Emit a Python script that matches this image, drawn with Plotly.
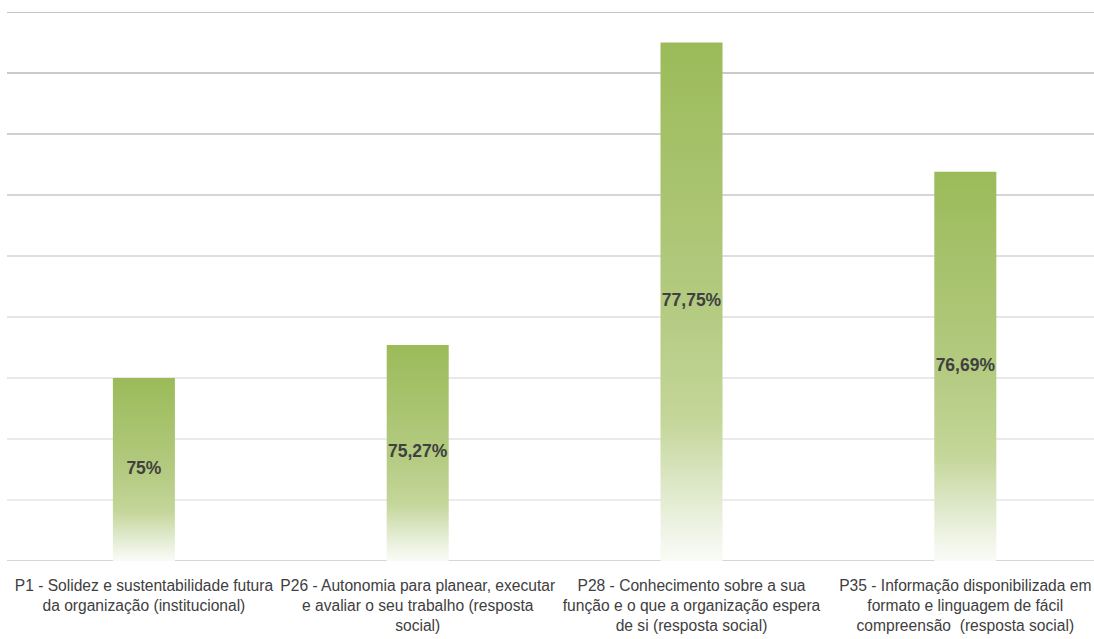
import numpy as np
import plotly.graph_objects as go

# Survey items and their satisfaction scores (%)
categories = [
    "P1 - Solidez e sustentabilidade futura<br>da organização (institucional)",
    "P26 - Autonomia para planear, executar<br>e avaliar o seu trabalho (resposta<br>social)",
    "P28 - Conhecimento sobre a sua<br>função e o que a organização espera<br>de si (resposta social)",
    "P35 - Informação disponibilizada em<br>formato e linguagem de fácil<br>compreensão  (resposta social)",
]
values = [75.0, 75.27, 77.75, 76.69]
value_labels = ["75%", "75,27%", "77,75%", "76,69%"]

# Value axis
y_min, y_max, y_step = 73.5, 78.0, 0.5

bar_width = 0.2265
bar_gradient = [
    [0.0, "#f9fbf6"],
    [0.05, "#f1f5e9"],
    [0.15, "#dce7c6"],
    [0.27, "#c4d699"],
    [0.5, "#b3ca80"],
    [1.0, "#9bbb59"],
]

fig = go.Figure()

for i, v in enumerate(values):
    x0, x1 = i - bar_width / 2, i + bar_width / 2
    fig.add_trace(go.Scatter(
        x=[x0, x1, x1, x0, x0],
        y=[y_min, y_min, v, v, y_min],
        mode="lines",
        line=dict(width=0),
        fill="toself",
        fillgradient=dict(type="vertical", colorscale=bar_gradient,
                          start=y_min, stop=v),
        hoverinfo="skip",
        showlegend=False,
    ))

# Value labels centred inside each bar
fig.add_trace(go.Scatter(
    x=list(range(len(values))),
    y=[(y_min + v) / 2 for v in values],
    mode="text",
    text=value_labels,
    textfont=dict(family="Liberation Sans, Arial, sans-serif", size=17.5,
                  color="#404040", weight="bold"),
    hoverinfo="skip",
    showlegend=False,
))

# Horizontal gridlines, fading toward the baseline
grid_vals = np.arange(y_min, y_max + y_step / 2, y_step)
grid_colors = ["#d6d6d6", "#ececec", "#eaeaea", "#e8e8e8", "#e5e5e5",
               "#dedede", "#d6d6d6", "#d0d0d0", "#cacaca", "#c4c4c4"]
for gv, gc in zip(grid_vals, grid_colors):
    fig.add_shape(type="line", xref="paper", yref="y", x0=0, x1=1,
                  y0=gv, y1=gv, line=dict(color=gc, width=2), layer="below")

fig.update_layout(
    width=1094, height=639,
    margin=dict(l=7, r=0, t=12, b=78),
    paper_bgcolor="white", plot_bgcolor="white",
    xaxis=dict(
        range=[-0.5, 3.47],
        tickmode="array",
        tickvals=list(range(len(categories))),
        ticktext=categories,
        tickfont=dict(family="Liberation Sans, Arial, sans-serif", size=15.6,
                      color="#404040"),
        ticklabelstandoff=13,
        showgrid=False, zeroline=False, showline=False, ticks="",
    ),
    yaxis=dict(
        range=[y_min, y_max],
        showgrid=False, zeroline=False, showline=False,
        showticklabels=False, ticks="",
    ),
)

fig.write_html("out.html")
